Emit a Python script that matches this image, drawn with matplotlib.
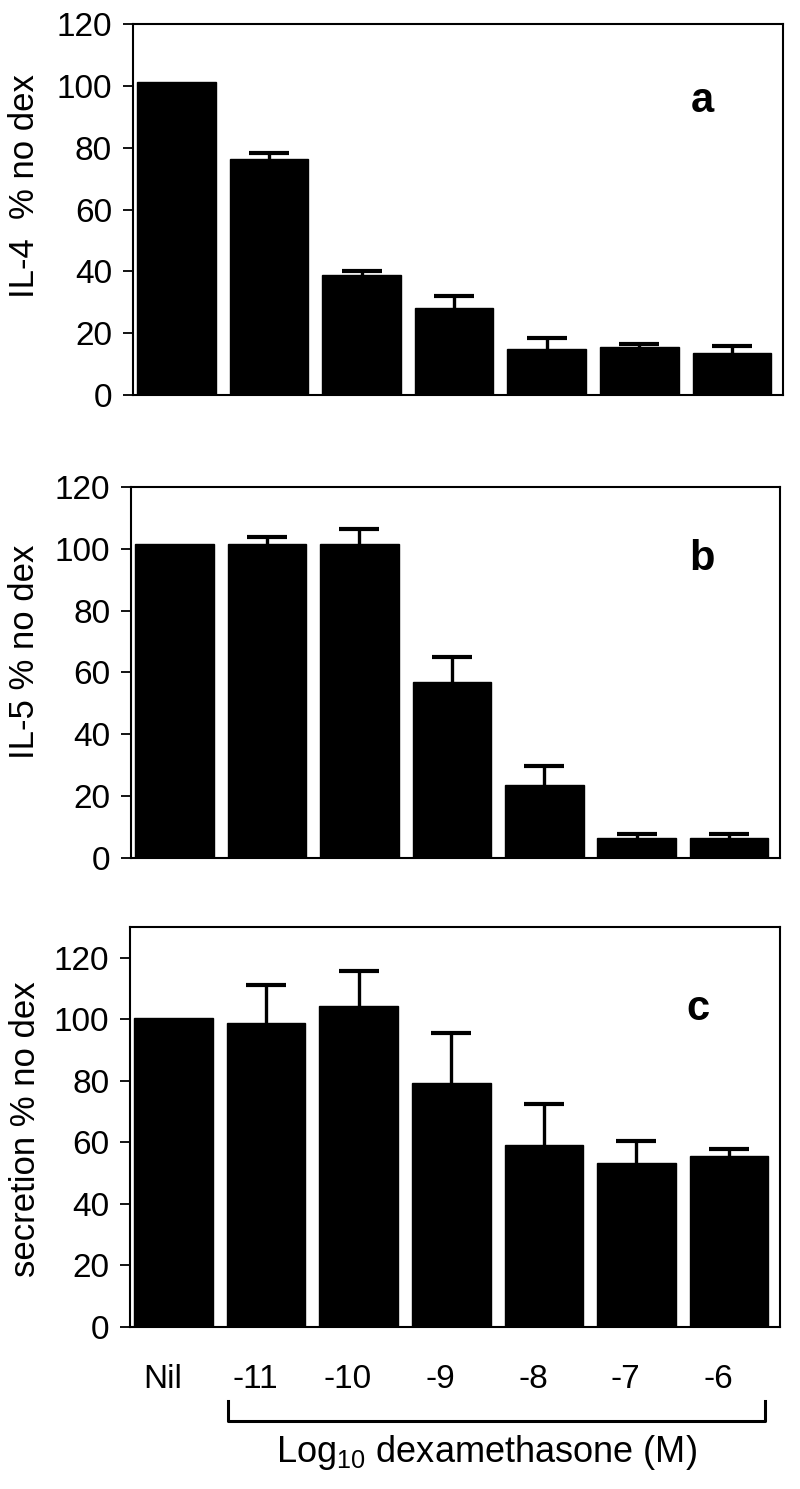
import numpy as np
import matplotlib
matplotlib.use("Agg")
import matplotlib.pyplot as plt
from matplotlib.lines import Line2D
from matplotlib.transforms import ScaledTranslation

#-------------------

# Data (percent of no-dex control, mean + upper SEM)
categories = ["Nil", "-11", "-10", "-9", "-8", "-7", "-6"]

il4_mean = [101.3, 76.4, 38.8, 28.2, 14.9, 15.4, 13.5]
il4_err = [0.0, 1.9, 1.4, 3.9, 3.6, 1.0, 2.4]

il5_mean = [101.5, 101.5, 101.5, 57.0, 23.7, 6.6, 6.6]
il5_err = [0.0, 2.2, 4.8, 8.0, 6.1, 1.0, 1.0]

sec_mean = [100.5, 98.9, 104.5, 79.2, 59.1, 53.2, 55.6]
sec_err = [0.0, 12.4, 11.1, 16.4, 13.3, 7.3, 2.1]

ylabels = ["IL-4  % no dex", "IL-5 % no dex", "secretion % no dex"]
panel_tags = ["a", "b", "c"]
y_limits = [120, 120, 130]

#-------------------

plt.rcParams["font.family"] = ["Liberation Sans", "DejaVu Sans"]
plt.rcParams["mathtext.fontset"] = "custom"
plt.rcParams["mathtext.rm"] = "Liberation Sans"

fig = plt.figure(figsize=(8, 14.89), dpi=100)

# axes boxes in figure fractions [left, bottom, width, height]
boxes = [[0.166, 0.7347, 0.8125, 0.2492],
         [0.164, 0.4238, 0.811, 0.2492],
         [0.1625, 0.1088, 0.8125, 0.2686]]
label_xy = [(-0.141, 0.563), (-0.139, 0.555), (-0.136, 0.495)]
tag_xy = [(0.877, 0.763), (0.880, 0.776), (0.874, 0.7675)]

x = np.arange(len(categories))

def drawPanel(ax, means, errs, ylabel, tag, ytop, lab_pos, tag_pos):
    """One bar panel with upper-only error bars."""
    means = np.array(means)
    errs = np.array(errs)
    ax.bar(x, means, width=0.85, color="black", edgecolor="black", zorder=2)

    # error bars only where there is a spread, and only the upper whisker
    has = errs > 0
    eb = ax.errorbar(x[has], means[has], yerr=[np.zeros(has.sum()), errs[has]],
                     fmt="none", ecolor="black", elinewidth=2.4,
                     capsize=14.7, capthick=3.0, zorder=1)
    for cap in eb[1]:
        if np.allclose(cap.get_ydata(), means[has]):
            cap.set_visible(False)

    ax.set_xlim(-0.47, 6.55)
    ax.set_ylim(0, ytop)
    ax.set_yticks(np.arange(0, 121, 20))
    ax.tick_params(axis="y", direction="out", length=7, width=1.3,
                   labelsize=24, pad=8)
    for sp in ax.spines.values():
        sp.set_linewidth(1.5)
    ax.set_ylabel(ylabel, fontsize=25)
    ax.yaxis.set_label_coords(*lab_pos)
    ax.text(tag_pos[0], tag_pos[1], tag, transform=ax.transAxes,
            fontsize=30, fontweight="bold", ha="center", va="baseline")

axes = []
series = [(il4_mean, il4_err), (il5_mean, il5_err), (sec_mean, sec_err)]
for i in range(3):
    ax = fig.add_axes(boxes[i])
    drawPanel(ax, series[i][0], series[i][1], ylabels[i], panel_tags[i],
              y_limits[i], label_xy[i], tag_xy[i])
    axes.append(ax)

# only the bottom panel carries category labels
for ax in axes[:2]:
    ax.set_xticks([])
ax_c = axes[2]
ax_c.set_xticks(x)
ax_c.set_xticklabels(categories, fontsize=24)
ax_c.tick_params(axis="x", length=0, pad=27)
shift = ScaledTranslation(-11 / 100, 0, fig.dpi_scale_trans)
for lbl in ax_c.get_xticklabels():
    lbl.set_transform(lbl.get_transform() + shift)

#-------------------

# bracket under the dexamethasone doses
bx0, bx1 = 0.151, 0.977
by_top, by_bot = -0.185, -0.235
bracket = Line2D([bx0, bx0, bx1, bx1], [by_top, by_bot, by_bot, by_top],
                 transform=ax_c.transAxes, color="black", linewidth=2.2,
                 clip_on=False)
ax_c.add_line(bracket)
ax_c.text(0.548, -0.3375, r"Log$_{\mathregular{10}}$ dexamethasone (M)",
          transform=ax_c.transAxes, fontsize=26, ha="center", va="baseline")

fig.savefig("out.png", dpi=100)
